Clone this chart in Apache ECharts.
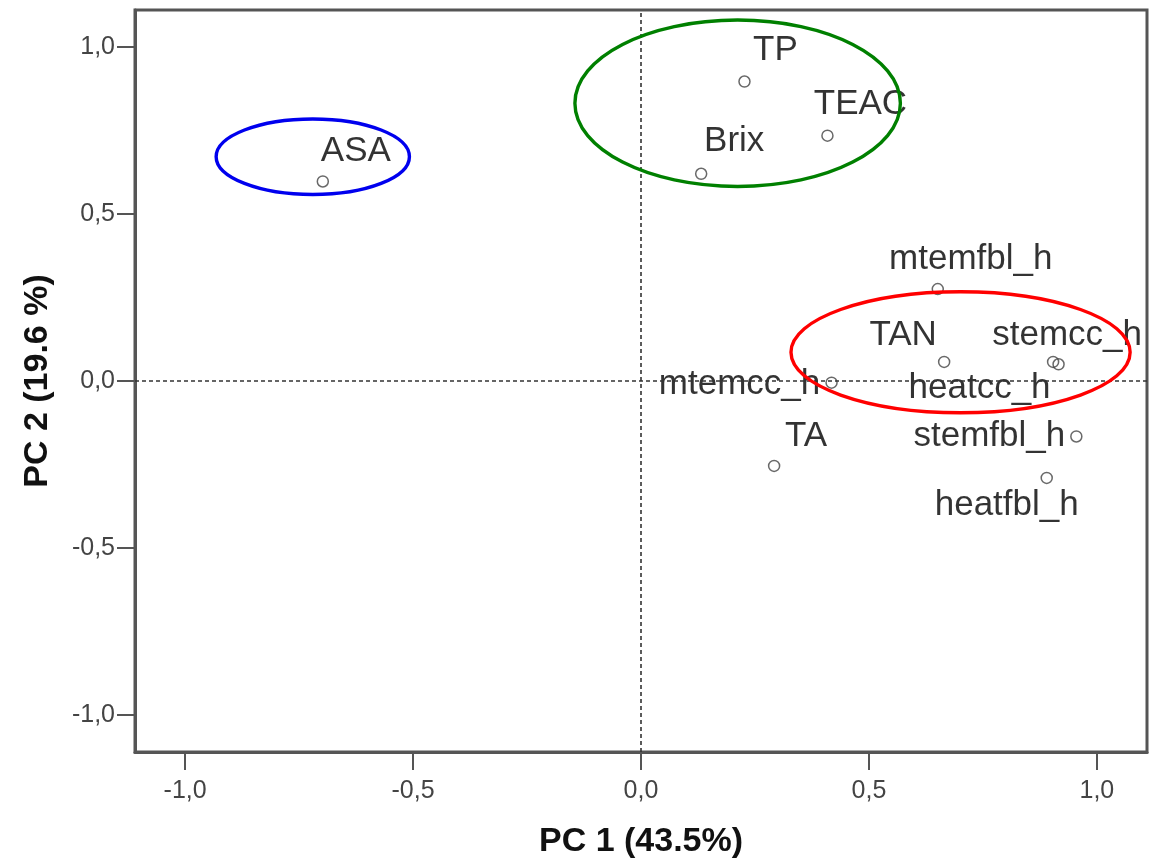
<!DOCTYPE html>
<html>
<head>
<meta charset="utf-8">
<script src="https://cdn.jsdelivr.net/npm/echarts@6/dist/echarts.min.js"></script>
<style>
html,body{margin:0;padding:0;background:#fff;}
#chart{width:1150px;height:864px;}
</style>
</head>
<body>
<div id="chart"></div>
<script>
// ---- data ----
var names = ['ASA','TP','TEAC','Brix','mtemfbl_h','TAN','stemcc_h','heatcc_h','mtemcc_h','TA','stemfbl_h','heatfbl_h'];
var pc1   = [-0.698, 0.227, 0.409, 0.132, 0.651, 0.665, 0.904, 0.916, 0.418, 0.292, 0.955, 0.890];
var pc2   = [ 0.597, 0.896, 0.734, 0.620, 0.275, 0.057, 0.057, 0.050, -0.005, -0.254, -0.166, -0.290];
var tickValues = [-1.0, -0.5, 0.0, 0.5, 1.0];
var xTitle = 'PC 1 (43.5%)';
var yTitle = 'PC 2 (19.6 %)';
// group ellipses (centre x, centre y, radius x, radius y in data units)
var ellipseCx = [-0.720, 0.212, 0.701];
var ellipseCy = [ 0.671, 0.831, 0.086];
var ellipseRx = [ 0.212, 0.357, 0.372];
var ellipseRy = [ 0.113, 0.249, 0.181];
var ellipseColors = ['#0000ee', '#008000', '#ff0000'];

// label placement (pixel offsets of label centre from point)
var labelOffsets = {
  'ASA':[33,-30], 'TP':[31,-31], 'TEAC':[33,-31], 'Brix':[33,-32],
  'mtemfbl_h':[33,-30], 'TAN':[-41,-27], 'stemcc_h':[14,-27], 'heatcc_h':[-79,24],
  'mtemcc_h':[-92,2], 'TA':[32,-30], 'stemfbl_h':[-87,0], 'heatfbl_h':[-40,27]
};

var pts = names.map(function(n,i){
  return {
    value:[pc1[i], pc2[i]],
    name:n,
    label:{offset: labelOffsets[n]}
  };
});
var ell = ellipseCx.map(function(c,i){ return [c, ellipseCy[i], ellipseRx[i], ellipseRy[i], i]; });

function fmt(v){ return v.toFixed(1).replace('.', ','); }

var chart = echarts.init(document.getElementById('chart'), null, {renderer:'canvas'});
var axisCommon = {
  type:'value', min:-1.11, max:1.11,
  splitLine:{show:false},
  axisLine:{show:true, onZero:false, lineStyle:{color:'#555', width:3}},
  axisTick:{show:true, inside:false, length:18, customValues:tickValues, lineStyle:{color:'#555', width:2}},
  axisLabel:{customValues:tickValues, formatter:fmt, color:'#444', fontFamily:'Liberation Sans', fontSize:25},
  nameLocation:'middle',
  nameTextStyle:{fontFamily:'Liberation Sans', fontWeight:'bold', fontSize:34, color:'#111'}
};
var option = {
  animation:false,
  backgroundColor:'#fff',
  grid:{left:135, right:3, top:10, bottom:111, show:true, borderColor:'#555', borderWidth:3},
  xAxis: Object.assign({}, axisCommon, {
    name:xTitle, nameGap:73,
    axisLabel:Object.assign({}, axisCommon.axisLabel, {margin:27})
  }),
  yAxis: Object.assign({}, axisCommon, {
    name:yTitle, nameGap:80, nameRotate:90,
    axisLabel:Object.assign({}, axisCommon.axisLabel, {margin:20})
  }),
  series:[
    {
      type:'scatter',
      z:3,
      data:pts,
      symbol:'circle',
      symbolSize:11,
      itemStyle:{color:'transparent', borderColor:'#444', borderWidth:1.5},
      label:{
        show:true, position:'inside', align:'center', verticalAlign:'middle',
        formatter:function(p){return p.name;},
        color:'#000', fontFamily:'Liberation Sans', fontSize:35
      },
      emphasis:{disabled:true},
      markLine:{
        silent:true, symbol:'none', animation:false,
        label:{show:false},
        lineStyle:{type:[4,3], color:'#333', width:1.6},
        data:[{xAxis:0},{yAxis:0}]
      }
    },
    {
      type:'custom',
      z:5,
      data:ell,
      silent:true,
      renderItem:function(params, api){
        var c = api.coord([api.value(0), api.value(1)]);
        var s = api.size([api.value(2), api.value(3)]);
        return {
          type:'ellipse',
          shape:{cx:c[0], cy:c[1], rx:s[0], ry:s[1]},
          style:{fill:'none', stroke:ellipseColors[api.value(4)], lineWidth:3.4}
        };
      }
    }
  ]
};
chart.setOption(option);
</script>
</body>
</html>
